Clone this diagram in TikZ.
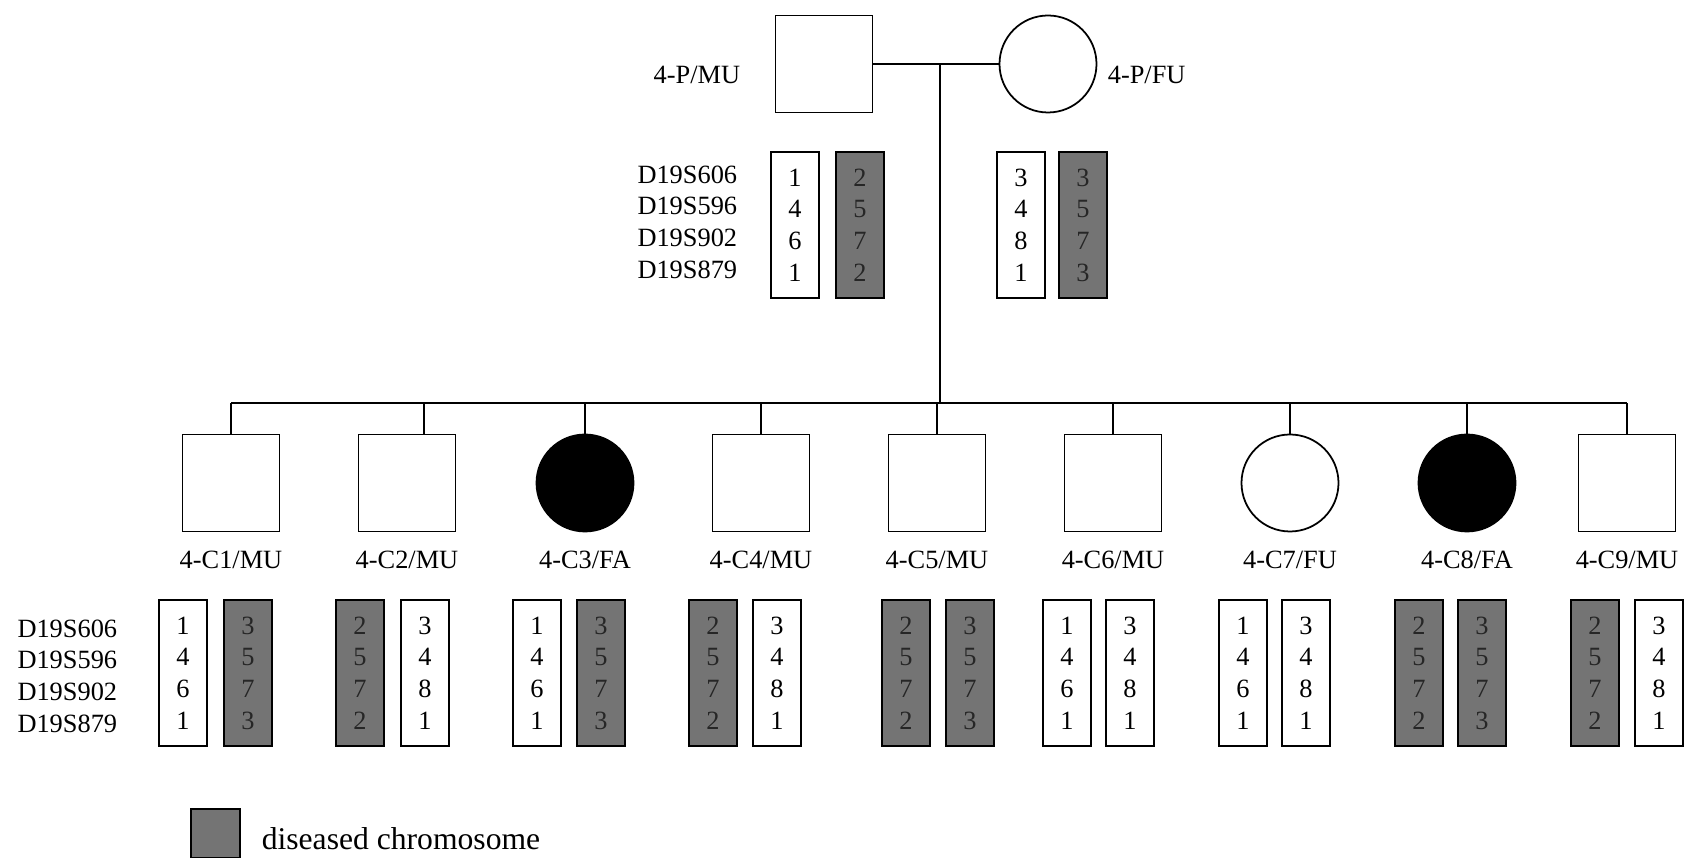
\documentclass[tikz,border=0pt]{standalone}
\usepackage{fontspec}
\setmainfont{Liberation Serif}
\usepackage{tikz}
\usetikzlibrary{calc,positioning}
\definecolor{disgray}{RGB}{116,116,116}

\begin{document}
\begin{tikzpicture}[
  every node/.style={inner sep=0pt, font=\fontsize{7.5}{9}\selectfont},
  male/.style={draw, rectangle, minimum size=0.97cm},
  female/.style={draw, circle, minimum size=0.97cm},
  aff/.style={fill=black},
  chr/.style={draw, minimum width=0.48cm, minimum height=1.46cm, align=center},
  dis/.style={chr, fill=disgray, text=black!85},
  mk/.style={align=right, anchor=east},
  key/.style={font=\fontsize{9}{11}\selectfont},
  line width=0.5pt
]
\useasboundingbox (0,0) rectangle (16.85,-8.58);

% --- parents ---
\node[male]   (fa) at (8.24,-0.64) {};
\node[female] (mo) at (10.48,-0.64) {};
\node[anchor=east] (fal) at (7.41,-0.75) {4-P/MU};
\node[anchor=west] (mol) at (11.07,-0.75) {4-P/FU};
\draw (fa) -- (mo);
\coordinate (mate) at (9.40,-0.64);
\coordinate (sib) at (0,-4.03);

\node[mk]  (pm)  at (7.38,-2.22) {D19S606\\D19S596\\D19S902\\D19S879};
\node[chr] (faa) at (7.95,-2.25) {1\\4\\6\\1};
\node[dis] (fab) at (8.60,-2.25) {2\\5\\7\\2};
\node[chr] (moa) at (10.21,-2.25) {3\\4\\8\\1};
\node[dis] (mob) at (10.83,-2.25) {3\\5\\7\\3};

% --- children ---
\node[mk] (cm) at (1.18,-6.76) {D19S606\\D19S596\\D19S902\\D19S879};

% --- 4-C1/MU ---
\begin{scope}[shift={(2.31,0)}]
\node[male] (c1) at (0,-4.83) {};
\node (c1l) at (0,-5.60) {4-C1/MU};
\node[chr] (c1a) at (-0.48,-6.73) {1\\4\\6\\1};
\node[dis] (c1b) at (0.17,-6.73) {3\\5\\7\\3};
\draw (c1) -- (c1 |- sib);
\end{scope}

% --- 4-C2/MU ---
\begin{scope}[shift={(4.07,0)}]
\node[male] (c2) at (0,-4.83) {};
\node (c2l) at (0,-5.60) {4-C2/MU};
\node[dis] (c2a) at (-0.47,-6.73) {2\\5\\7\\2};
\node[chr] (c2b) at (0.18,-6.73) {3\\4\\8\\1};
\coordinate (c2t) at ($(c2.north west)!0.67!(c2.north east)$);
\draw (c2t) -- (c2t |- sib);
\end{scope}

% --- 4-C3/FA ---
\begin{scope}[shift={(5.85,0)}]
\node[female, aff] (c3) at (0,-4.83) {};
\node (c3l) at (0,-5.60) {4-C3/FA};
\node[chr] (c3a) at (-0.48,-6.73) {1\\4\\6\\1};
\node[dis] (c3b) at (0.16,-6.73) {3\\5\\7\\3};
\draw (c3) -- (c3 |- sib);
\end{scope}

% --- 4-C4/MU ---
\begin{scope}[shift={(7.61,0)}]
\node[male] (c4) at (0,-4.83) {};
\node (c4l) at (0,-5.60) {4-C4/MU};
\node[dis] (c4a) at (-0.48,-6.73) {2\\5\\7\\2};
\node[chr] (c4b) at (0.16,-6.73) {3\\4\\8\\1};
\draw (c4) -- (c4 |- sib);
\end{scope}

% --- 4-C5/MU ---
\begin{scope}[shift={(9.37,0)}]
\node[male] (c5) at (0,-4.83) {};
\node (c5l) at (0,-5.60) {4-C5/MU};
\node[dis] (c5a) at (-0.31,-6.73) {2\\5\\7\\2};
\node[dis] (c5b) at (0.33,-6.73) {3\\5\\7\\3};
\end{scope}

% --- 4-C6/MU ---
\begin{scope}[shift={(11.13,0)}]
\node[male] (c6) at (0,-4.83) {};
\node (c6l) at (0,-5.60) {4-C6/MU};
\node[chr] (c6a) at (-0.46,-6.73) {1\\4\\6\\1};
\node[chr] (c6b) at (0.17,-6.73) {3\\4\\8\\1};
\draw (c6) -- (c6 |- sib);
\end{scope}

% --- 4-C7/FU ---
\begin{scope}[shift={(12.90,0)}]
\node[female] (c7) at (0,-4.83) {};
\node (c7l) at (0,-5.60) {4-C7/FU};
\node[chr] (c7a) at (-0.47,-6.73) {1\\4\\6\\1};
\node[chr] (c7b) at (0.16,-6.73) {3\\4\\8\\1};
\draw (c7) -- (c7 |- sib);
\end{scope}

% --- 4-C8/FA ---
\begin{scope}[shift={(14.67,0)}]
\node[female, aff] (c8) at (0,-4.83) {};
\node (c8l) at (0,-5.60) {4-C8/FA};
\node[dis] (c8a) at (-0.48,-6.73) {2\\5\\7\\2};
\node[dis] (c8b) at (0.15,-6.73) {3\\5\\7\\3};
\draw (c8) -- (c8 |- sib);
\end{scope}

% --- 4-C9/MU ---
\begin{scope}[shift={(16.27,0)}]
\node[male] (c9) at (0,-4.83) {};
\node (c9l) at (0,-5.60) {4-C9/MU};
\node[dis] (c9a) at (-0.32,-6.73) {2\\5\\7\\2};
\node[chr] (c9b) at (0.32,-6.73) {3\\4\\8\\1};
\draw (c9) -- (c9 |- sib);
\end{scope}

% sibship
\draw (mate) -- (mate |- sib);
\draw (c1 |- sib) -- (c9 |- sib);
\draw (c5) -- (c5 |- sib);

% --- key ---
\node[dis, minimum width=0.49cm, minimum height=0.49cm] (key) at (2.155,-8.335) {};
\node[key, right=0.2cm of key, yshift=-0.05cm] (keyl) {diseased chromosome};

\end{tikzpicture}
\end{document}
